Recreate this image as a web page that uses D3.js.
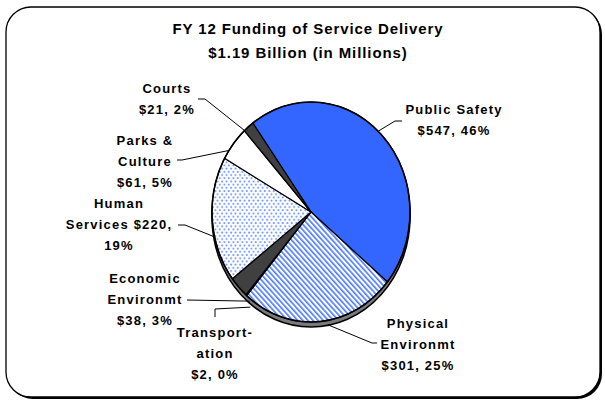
<!DOCTYPE html>
<html>
<head>
<meta charset="utf-8">
<script src="https://cdn.jsdelivr.net/npm/d3@7"></script>
<style>
  html, body { margin: 0; padding: 0; background: #fff; }
  svg { display: block; }
  text { font-family: "Liberation Sans", Arial, sans-serif; font-weight: bold; fill: #000; }
</style>
</head>
<body>
<svg id="chart" width="605" height="401"></svg>
<script>
// ---- data ----
const titleLines = ["FY 12 Funding of Service Delivery", "$1.19 Billion (in Millions)"];
const categories = ["Public Safety", "Physical Environmt", "Transportation", "Economic Environmt", "Human Services", "Parks & Culture", "Courts"];
const values = [547, 301, 2, 38, 220, 61, 21];
const percents = [46, 25, 0, 3, 19, 5, 2];
const labelLines = [
  ["Public Safety", "$547, 46%"],
  ["Physical", "Environmt", "$301, 25%"],
  ["Transport-", "ation", "$2, 0%"],
  ["Economic", "Environmt", "$38, 3%"],
  ["Human", "Services $220,", "19%"],
  ["Parks &", "Culture", "$61, 5%"],
  ["Courts", "$21, 2%"]
];

// ---- layout / style ----
const W = 605, H = 401;
const cx = 311, cy = 212, R = 110, sx = 0.9, depth = 5;
const startDeg = -36;
const fills = ["#3366ff", "url(#stripes)", "#262626", "#404040", "url(#dots)", "#ffffff", "#404040"];
const labelLayout = [
  { x: 454, y: 114, leader: [[402, 121], [395, 121]], adj: -4, rk: 1.0 },
  { x: 418, y: 328, leader: [[377, 343], [372, 343]], adj: -4.5, rk: 1.04 },
  { x: 215, y: 337, leader: [[215, 317], [215, 309]], adj: -5.5, rk: 1.06 },
  { x: 145, y: 283, leader: [[187, 300]], adj: -9.5, rk: 1.02 },
  { x: 119, y: 208, leader: [[178, 225], [185, 225]], adj: -9, rk: 1.0 },
  { x: 145, y: 145, leader: [[177, 160], [182, 160]], adj: -4.4, rk: 1.0 },
  { x: 167, y: 93,  leader: [[198, 99], [205, 99]], adj: -3, rk: 1.0 }
];
const lineH = 21;

const svg = d3.select("#chart");
const defs = svg.append("defs");

// stripes pattern
const st = defs.append("pattern").attr("id", "stripes")
  .attr("patternUnits", "userSpaceOnUse").attr("width", 4).attr("height", 4)
  .attr("patternTransform", "rotate(-45)");
st.append("rect").attr("width", 4).attr("height", 4).attr("fill", "#fff");
st.append("rect").attr("x", 0).attr("y", 0).attr("width", 1.7).attr("height", 4).attr("fill", "#4a78ff");

// dots pattern
const dp = defs.append("pattern").attr("id", "dots")
  .attr("patternUnits", "userSpaceOnUse").attr("width", 5).attr("height", 6.4);
dp.append("rect").attr("width", 5).attr("height", 6.4).attr("fill", "#fff");
dp.append("circle").attr("cx", 1.2).attr("cy", 1.4).attr("r", 1.05).attr("fill", "#5c86ff");
dp.append("circle").attr("cx", 3.7).attr("cy", 4.6).attr("r", 1.05).attr("fill", "#5c86ff");

// frame
svg.append("rect").attr("x", 8).attr("y", 9).attr("width", 594).attr("height", 390)
  .attr("rx", 25).attr("fill", "#000");
svg.append("rect").attr("x", 6).attr("y", 7).attr("width", 594).attr("height", 390)
  .attr("rx", 25).attr("fill", "#fff").attr("stroke", "#000").attr("stroke-width", 1.3);

// title
svg.selectAll("text.title").data(titleLines).enter().append("text")
  .attr("class", "title")
  .attr("x", 308).attr("y", (d, i) => 34 + i * 24)
  .attr("text-anchor", "middle")
  .style("font-size", "15px").style("letter-spacing", "0.9px")
  .text(d => d);

// pie
const pie = d3.pie().sort(null).value(d => d)
  .startAngle(startDeg * Math.PI / 180)
  .endAngle(startDeg * Math.PI / 180 + 2 * Math.PI);
const arcs = pie(values);
const arc = d3.arc().innerRadius(0).outerRadius(R);
const full = d3.arc().innerRadius(0).outerRadius(R).startAngle(0).endAngle(2 * Math.PI);

// depth
svg.append("path").attr("d", full())
  .attr("transform", `translate(${cx},${cy + depth}) scale(${sx},1)`)
  .attr("fill", "#7a7a7a").attr("stroke", "#000").attr("stroke-width", 1.5)
  .attr("vector-effect", "non-scaling-stroke");

const g = svg.append("g").attr("transform", `translate(${cx},${cy}) scale(${sx},1)`);
g.selectAll("path.slice").data(arcs).enter().append("path")
  .attr("class", "slice")
  .attr("d", arc)
  .attr("fill", (d, i) => fills[i])
  .attr("stroke", "#000").attr("stroke-width", 1.2)
  .attr("stroke-linejoin", "round")
  .attr("vector-effect", "non-scaling-stroke");
g.append("path").attr("d", full()).attr("fill", "none")
  .attr("stroke", "#000").attr("stroke-width", 1.6)
  .attr("vector-effect", "non-scaling-stroke");

// leaders
function edgePoint(a, k) {
  return [cx + R * sx * k * Math.sin(a), cy - R * k * Math.cos(a)];
}
arcs.forEach((d, i) => {
  const L = labelLayout[i];
  const mid = (d.startAngle + d.endAngle) / 2 + L.adj * Math.PI / 180;
  const pts = L.leader.concat([edgePoint(mid, L.rk)]);
  svg.append("path").attr("d", d3.line()(pts))
    .attr("fill", "none").attr("stroke", "#000").attr("stroke-width", 1);
});

// labels
labelLines.forEach((lines, i) => {
  const L = labelLayout[i];
  const t = svg.append("text")
    .attr("text-anchor", "middle")
    .style("font-size", "13px").style("letter-spacing", "1.2px");
  lines.forEach((ln, j) => {
    t.append("tspan").attr("x", L.x).attr("y", L.y + j * lineH).text(ln);
  });
});
</script>
</body>
</html>
